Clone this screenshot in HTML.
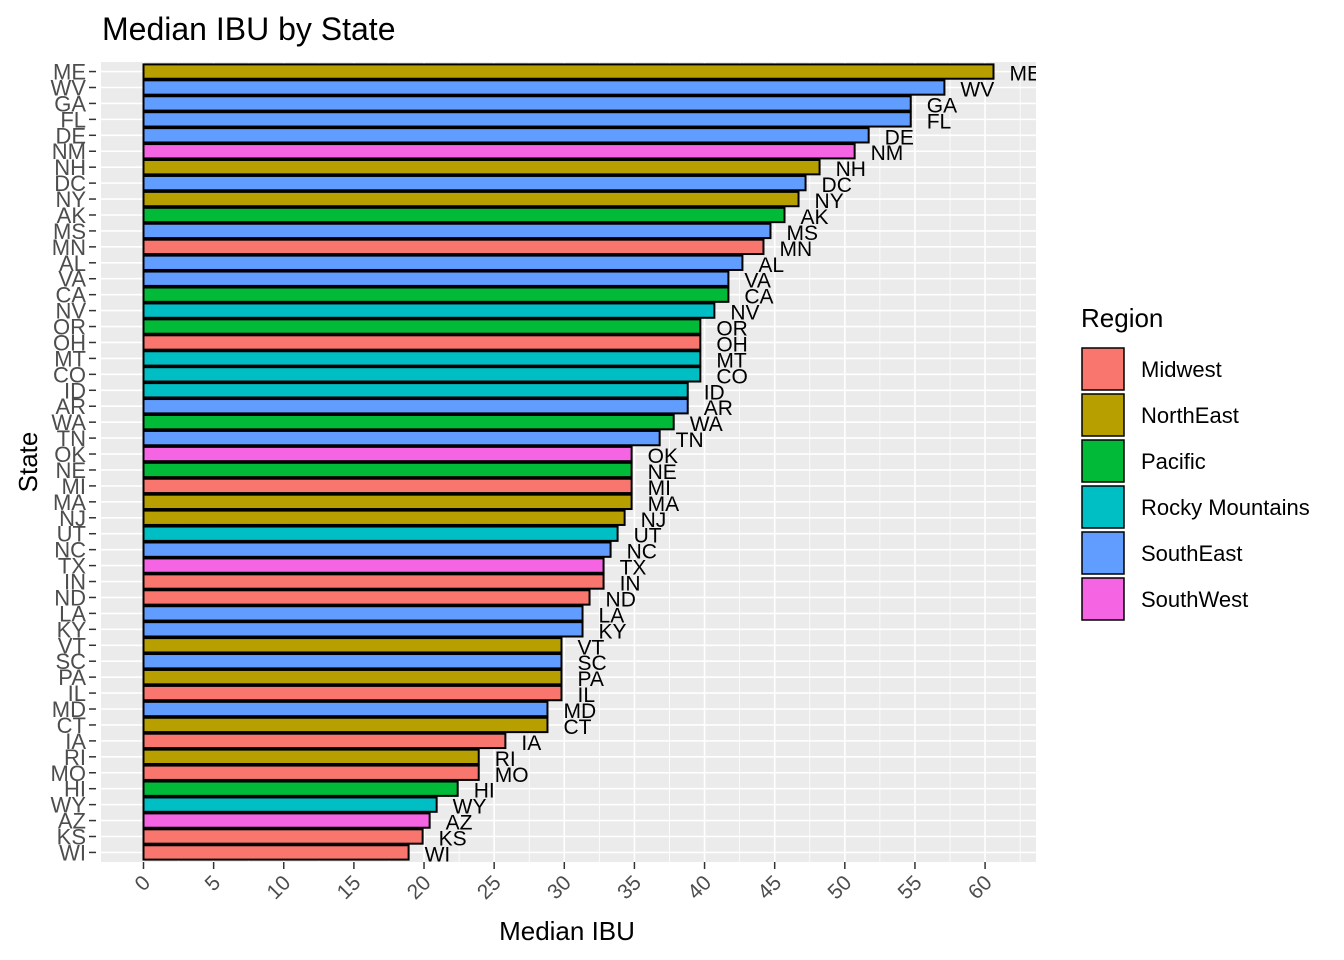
<!DOCTYPE html>
<html><head><meta charset="utf-8"><style>
body{margin:0;background:#fff;}
svg{display:block;font-family:"Liberation Sans",Arial,sans-serif;}
</style></head><body>
<svg id="chart" width="1344" height="960" viewBox="0 0 1344 960">
<defs><clipPath id="pc"><rect x="101" y="62" width="935" height="800"/></clipPath></defs>
<text x="102" y="40" font-size="32" fill="#000">Median IBU by State</text>
<rect x="101" y="62" width="935" height="800" fill="#EBEBEB"/>
<g id="grid"></g><g id="bars"></g><g id="labels" clip-path="url(#pc)"></g><g id="yaxis"></g><g id="xaxis"></g>
<text x="567" y="940" font-size="26" text-anchor="middle" fill="#000">Median IBU</text>
<text transform="translate(37,462) rotate(-90)" font-size="26" text-anchor="middle" fill="#000">State</text>
<g id="legend"><text x="1081" y="327" font-size="26" fill="#000">Region</text></g>
</svg>
<script>
const states=["ME","WV","GA","FL","DE","NM","NH","DC","NY","AK","MS","MN","AL","VA","CA","NV","OR","OH","MT","CO","ID","AR","WA","TN","OK","NE","MI","MA","NJ","UT","NC","TX","IN","ND","LA","KY","VT","SC","PA","IL","MD","CT","IA","RI","MO","HI","WY","AZ","KS","WI"];
const values=[60.6,57.1,54.7,54.7,51.7,50.7,48.2,47.2,46.7,45.7,44.7,44.2,42.7,41.7,41.7,40.7,39.7,39.7,39.7,39.7,38.8,38.8,37.8,36.8,34.8,34.8,34.8,34.8,34.3,33.8,33.3,32.8,32.8,31.8,31.3,31.3,29.8,29.8,29.8,29.8,28.8,28.8,25.8,23.9,23.9,22.4,20.9,20.4,19.9,18.9];
const regions=["NorthEast","SouthEast","SouthEast","SouthEast","SouthEast","SouthWest","NorthEast","SouthEast","NorthEast","Pacific","SouthEast","Midwest","SouthEast","SouthEast","Pacific","Rocky Mountains","Pacific","Midwest","Rocky Mountains","Rocky Mountains","Rocky Mountains","SouthEast","Pacific","SouthEast","SouthWest","Pacific","Midwest","NorthEast","NorthEast","Rocky Mountains","SouthEast","SouthWest","Midwest","Midwest","SouthEast","SouthEast","NorthEast","SouthEast","NorthEast","Midwest","SouthEast","NorthEast","Midwest","NorthEast","Midwest","Pacific","Rocky Mountains","SouthWest","Midwest","Midwest"];
const regionNames=["Midwest","NorthEast","Pacific","Rocky Mountains","SouthEast","SouthWest"];
const regionColors=["#F8766D","#B79F00","#00BA38","#00BFC4","#619CFF","#F564E3"];
const xTicks=[0,5,10,15,20,25,30,35,40,45,50,55,60];
</script>
<script>
const NS="http://www.w3.org/2000/svg";
function mk(t,a,p){const e=document.createElementNS(NS,t);for(const k in a)e.setAttribute(k,a[k]);p.appendChild(e);return e;}
const L=101,R=1036,T=62,B=862;
const vmax=Math.max(...values);
const xmin=-0.05*vmax,xmax=1.05*vmax;
const x=v=>L+(v-xmin)/(xmax-xmin)*(R-L);
const n=states.length;
const step=(B-T)/(n+0.2);
const y=i=>T+(0.6+i)*step;
const grid=document.getElementById('grid');
for(let v=2.5;v<xmax;v+=5){const l=mk('line',{x1:x(v),x2:x(v),y1:T,y2:B,stroke:'#fff','stroke-width':0.8},grid);

}
xTicks.forEach(v=>{const l=mk('line',{x1:x(v),x2:x(v),y1:T,y2:B,stroke:'#fff','stroke-width':1.6},grid);

});
for(let i=0;i<n;i++){const l=mk('line',{x1:L,x2:R,y1:y(i),y2:y(i),stroke:'#fff','stroke-width':1.6},grid);

}
const bars=document.getElementById('bars'),labels=document.getElementById('labels'),ya=document.getElementById('yaxis'),xa=document.getElementById('xaxis');
const bh=0.9*step;
states.forEach((s,i)=>{
const c=regionColors[regionNames.indexOf(regions[i])];
const r=mk('rect',{x:x(0),y:y(i)-bh/2,width:x(values[i])-x(0),height:bh,fill:c,stroke:'#000','stroke-width':2},bars);


const t=mk('text',{x:x(values[i])+16,y:y(i)+9,'font-size':21,fill:'#000'},labels);t.textContent=s;


const yt=mk('text',{x:86,y:y(i)+8,'font-size':22,fill:'#4D4D4D','text-anchor':'end'},ya);yt.textContent=s;


const tk=mk('line',{x1:89,x2:96,y1:y(i),y2:y(i),stroke:'#333','stroke-width':1.5},ya);


});
xTicks.forEach(v=>{
const tk=mk('line',{x1:x(v),x2:x(v),y1:B,y2:B+7,stroke:'#333','stroke-width':1.5},xa);


const t=mk('text',{transform:`translate(${x(v)+8},${B+22}) rotate(-45)`,'font-size':21,fill:'#4D4D4D','text-anchor':'end'},xa);t.textContent=v;


});
const lg=document.getElementById('legend');
regionNames.forEach((r,i)=>{
const yy=348+i*46;
const k=mk('rect',{x:1082,y:yy,width:42,height:42,fill:regionColors[i],stroke:'#000','stroke-width':1.5},lg);


const t=mk('text',{x:1141,y:yy+29,'font-size':22,fill:'#000'},lg);t.textContent=r;


});
</script>
</body></html>
